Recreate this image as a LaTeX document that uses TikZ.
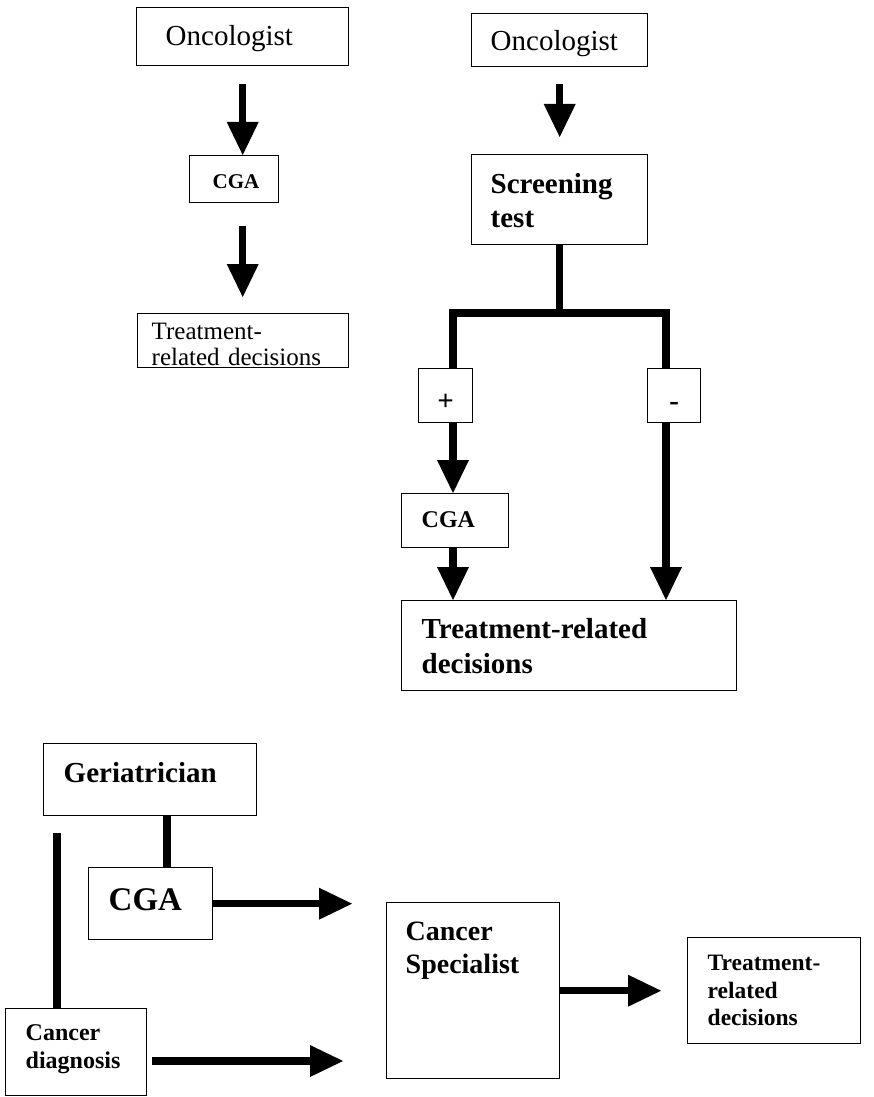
\documentclass[tikz,border=0pt]{standalone}
\usepackage{fontspec}
\setmainfont{Liberation Serif}
\usetikzlibrary{arrows.meta}
\newcommand\fsz[2]{\fontsize{#1}{#2}\selectfont}
\begin{document}
\begin{tikzpicture}[x=1pt,y=-1pt,
  box/.style={draw, line width=1.4pt, anchor=north west, inner ysep=0pt, align=left},
  sign/.style={draw, line width=1.4pt, anchor=north west, inner sep=0pt,
    font=\fsz{29}{32}\bfseries, text height=30pt, text depth=0pt},
  bigarrow/.style={line width=7.5pt, -{Triangle[width=32pt,length=33pt,line width=0pt]}},
  bar/.style={line width=7.5pt, line join=miter}]
\useasboundingbox (0,0) rectangle (874,1097);

% ---- left column: oncologist performs CGA ----
\node[box, minimum width=212pt, minimum height=58pt, inner xsep=29pt, text width=154pt,
      font=\fsz{29}{34}, text height=20pt, text depth=2pt] (onc1) at (136,7) {Oncologist};
\node[box, minimum width=89pt, minimum height=47pt, inner xsep=23pt, text width=43pt,
      font=\fsz{21}{25}\bfseries, text height=20pt, text depth=1pt] (cga1) at (189,155) {CGA};
\node[box, minimum width=211pt, minimum height=54pt, inner xsep=14pt, text width=183pt,
      font=\fsz{25}{25.5}, text height=20pt, text depth=22pt] (treat1) at (137,313)
      {Treatment-\\related decisions};

\draw[bigarrow, shorten <=18pt] (onc1.south) -- (onc1.south |- cga1.north);
\draw[bigarrow, shorten <=23pt, shorten >=16pt] (cga1.south -| onc1.south) -- (onc1.south |- treat1.north);

% ---- right column: screening first ----
\node[box, minimum width=176pt, minimum height=53pt, inner xsep=19pt, text width=138pt,
      font=\fsz{29}{34}, text height=22pt, text depth=1pt] (onc2) at (471,13) {Oncologist};
\node[box, minimum width=176pt, minimum height=90pt, inner xsep=19pt, text width=138pt,
      font=\fsz{29}{34}\bfseries, text height=20pt, text depth=32pt] (screen) at (471,154)
      {Screening\\test};
\node[sign, minimum width=54pt, minimum height=54pt] (plus) at (418,368) {+};
\node[sign, minimum width=53pt, minimum height=54pt] (minus) at (647,368) {-};
\node[box, minimum width=107pt, minimum height=54pt, inner xsep=20pt, text width=67pt,
      font=\fsz{24}{28}\bfseries, text height=17pt, text depth=3pt] (cga2) at (401,493) {CGA};
\node[box, minimum width=335pt, minimum height=90pt, inner xsep=20pt, text width=295pt,
      font=\fsz{29}{35}\bfseries, text height=20pt, text depth=34pt] (treat2) at (401,600)
      {Treatment-related\\decisions};

\draw[bigarrow, shorten <=17pt, shorten >=17pt] (onc2.south) -- (screen.north);
\coordinate (jl) at (453,313);
\coordinate (jr) at (666,313);
\draw[bar] (screen.south) -- (screen.south |- jl);
\draw[bar] (jl |- plus.north) -- (jl) -- (jr) -- (jr |- minus.north);
\draw[bigarrow] (jl |- plus.south) -- (jl |- cga2.north);
\draw[bigarrow] (jl |- cga2.south) -- (jl |- treat2.north);
\draw[bigarrow] (jr |- minus.south) -- (jr |- treat2.north);

% ---- bottom: geriatrician performs CGA ----
\node[box, minimum width=213pt, minimum height=72pt, inner xsep=20pt, text width=173pt,
      font=\fsz{29}{34}\bfseries, text height=20pt, text depth=14pt] (geri) at (43,743) {Geriatrician};
\node[box, minimum width=124pt, minimum height=72pt, inner xsep=20pt, text width=84pt,
      font=\fsz{33}{38}\bfseries, text height=24pt, text depth=10pt] (cga3) at (88,867) {CGA};
\node[box, minimum width=141pt, minimum height=87pt, inner xsep=20pt, text width=101pt,
      font=\fsz{24}{28}\bfseries, text height=17pt, text depth=40pt] (diag) at (5,1008)
      {Cancer\\diagnosis};
\node[box, minimum width=173pt, minimum height=176pt, inner xsep=19pt, text width=135pt,
      font=\fsz{28}{33}\bfseries, text height=20pt, text depth=120pt] (spec) at (386,902)
      {Cancer\\Specialist};
\node[box, minimum width=173pt, minimum height=106pt, inner xsep=20pt, text width=133pt,
      font=\fsz{23.5}{27.5}\bfseries, text height=17pt, text depth=57pt] (treat3) at (687,937)
      {Treatment-\\related\\decisions};

\coordinate (gx) at (167,800);
\draw[bar] (geri.south -| gx) -- (cga3.north -| gx);
\coordinate (vtop) at (57,833);
\draw[bar] (vtop) -- (vtop |- diag.north);
\draw[bigarrow, shorten >=34pt] (cga3.east) -- (cga3.east -| spec.west);
\coordinate (dy) at (100,1061);
\draw[bigarrow, shorten <=5pt, shorten >=43pt] (diag.east |- dy) -- (spec.west |- dy);
\draw[bigarrow, shorten >=26pt] (spec.east) -- (treat3.west |- spec.east);
\end{tikzpicture}
\end{document}
